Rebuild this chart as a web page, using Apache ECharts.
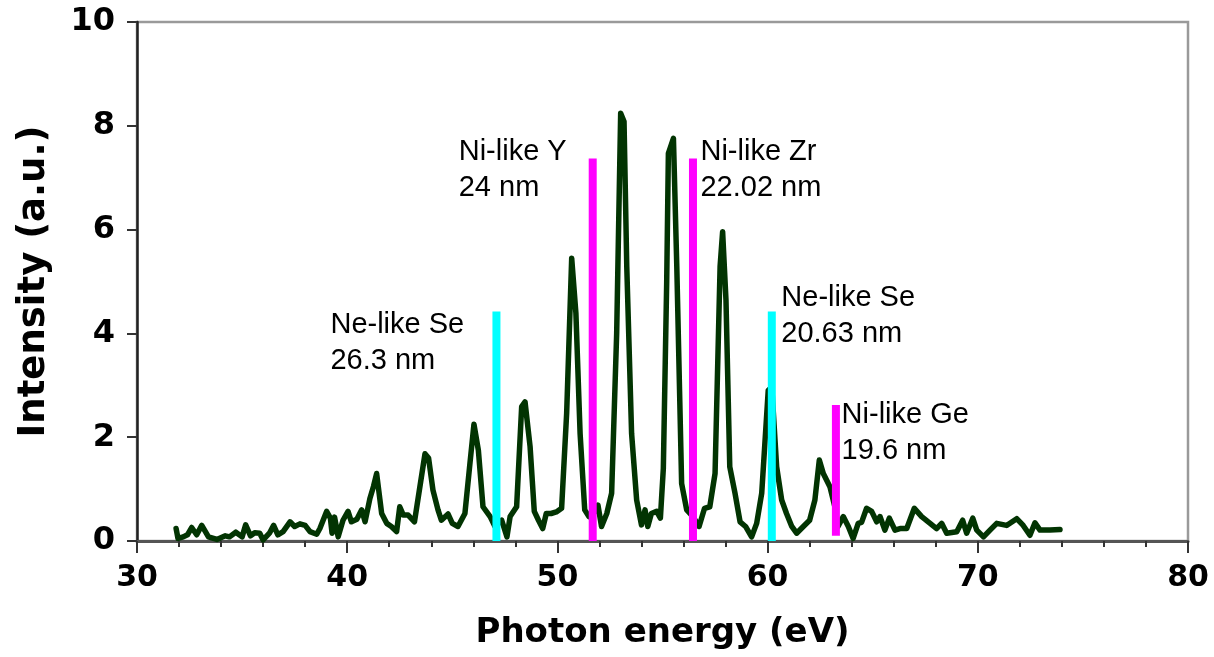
<!DOCTYPE html>
<html>
<head>
<meta charset="utf-8">
<title>Photon energy spectrum</title>
<script src="https://cdn.jsdelivr.net/npm/echarts@6/dist/echarts.min.js"></script>
<style>
  html, body { margin: 0; padding: 0; background: #fff; }
  #chart { width: 1214px; height: 657px; }
</style>
</head>
<body>
<div id="chart"></div>
<script>
// Measured emission spectrum: photon energy (eV) and intensity (a.u.)
const energy = [
  31.86, 31.95, 32.2, 32.4, 32.6, 32.84, 33.08, 33.4, 33.8, 34.2, 34.4, 34.7, 35.0, 35.17, 35.4, 35.6,
  35.84, 36.0, 36.3, 36.5, 36.7, 36.95, 37.28, 37.5, 37.75, 38.0, 38.23, 38.55, 38.7, 39.02, 39.2, 39.28,
  39.4, 39.57, 39.8, 40.04, 40.2, 40.46, 40.69, 40.85, 41.08, 41.25, 41.4, 41.64, 41.88, 42.1, 42.35, 42.5,
  42.67, 42.9, 43.2, 43.46, 43.7, 43.87, 44.08, 44.32, 44.48, 44.8, 45.0, 45.27, 45.6, 45.84, 46.03, 46.24,
  46.46, 46.8, 47.03, 47.35, 47.6, 47.75, 48.06, 48.3, 48.46, 48.7, 48.9, 49.1, 49.3, 49.47, 49.7, 49.95,
  50.2, 50.44, 50.68, 50.88, 51.08, 51.3, 51.5, 51.75, 51.93, 52.1, 52.35, 52.58, 52.82, 53.01, 53.17, 53.3,
  53.53, 53.77, 54.0, 54.17, 54.3, 54.47, 54.72, 54.9, 55.04, 55.2, 55.28, 55.52, 55.68, 55.91, 56.15, 56.45,
  56.74, 57.0, 57.25, 57.5, 57.74, 57.86, 58.02, 58.2, 58.45, 58.69, 58.95, 59.24, 59.48, 59.72, 60.03, 60.2,
  60.43, 60.67, 60.9, 61.15, 61.38, 61.7, 62.0, 62.25, 62.46, 62.65, 62.97, 63.2, 63.35, 63.6, 63.84, 64.07,
  64.31, 64.47, 64.71, 64.95, 65.19, 65.35, 65.58, 65.79, 66.06, 66.3, 66.62, 66.98, 67.33, 67.73, 68.04, 68.28,
  68.52, 69.0, 69.28, 69.47, 69.76, 69.95, 70.27, 70.58, 70.9, 71.37, 71.85, 72.16, 72.48, 72.72, 72.96, 73.43,
  73.91
];
const intensity = [
  0.24, 0.05, 0.08, 0.12, 0.26, 0.12, 0.30, 0.08, 0.03, 0.10, 0.08, 0.17, 0.08, 0.31, 0.10, 0.16,
  0.15, 0.02, 0.15, 0.30, 0.12, 0.18, 0.37, 0.28, 0.33, 0.30, 0.18, 0.13, 0.24, 0.57, 0.44, 0.15,
  0.46, 0.08, 0.40, 0.57, 0.37, 0.42, 0.60, 0.37, 0.82, 1.05, 1.30, 0.53, 0.34, 0.28, 0.18, 0.66,
  0.50, 0.50, 0.37, 1.05, 1.68, 1.60, 0.98, 0.60, 0.40, 0.52, 0.34, 0.28, 0.53, 1.50, 2.25, 1.75,
  0.66, 0.47, 0.28, 0.40, 0.08, 0.47, 0.66, 2.59, 2.68, 1.82, 0.57, 0.40, 0.24, 0.53, 0.53, 0.56,
  0.63, 2.46, 5.45, 4.39, 2.07, 0.60, 0.47, 0.55, 0.69, 0.28, 0.53, 0.92, 4.00, 8.24, 8.08, 5.29,
  2.07, 0.79, 0.31, 0.60, 0.28, 0.53, 0.57, 0.44, 1.40, 5.00, 7.47, 7.76, 5.29, 1.11, 0.60, 0.47,
  0.28, 0.63, 0.66, 1.30, 5.29, 5.96, 4.64, 1.43, 0.92, 0.37, 0.28, 0.08, 0.34, 0.92, 2.90, 2.97,
  1.43, 0.79, 0.53, 0.28, 0.15, 0.28, 0.40, 0.79, 1.56, 1.30, 1.04, 0.66, 0.28, 0.47, 0.28, 0.05,
  0.34, 0.36, 0.63, 0.57, 0.37, 0.47, 0.21, 0.44, 0.21, 0.24, 0.24, 0.63, 0.47, 0.34, 0.24, 0.34,
  0.15, 0.18, 0.40, 0.15, 0.44, 0.21, 0.08, 0.21, 0.34, 0.30, 0.43, 0.30, 0.11, 0.35, 0.21, 0.21,
  0.22
];

// Reference laser lines: position (eV), marker height and base (a.u.), label text
const lineEnergy = [47.1, 51.68, 56.45, 60.2, 63.25];
const lineHeight = [4.42, 7.37, 7.37, 4.42, 2.62];
const lineBase = [0, 0, 0, 0, 0.1];
const lineIon = ['Ne-like Se', 'Ni-like Y', 'Ni-like Zr', 'Ne-like Se', 'Ni-like Ge'];
const lineWavelength = ['26.3 nm', '24 nm', '22.02 nm', '20.63 nm', '19.6 nm'];

// Axis ticks
const xTicks = [30, 40, 50, 60, 70, 80];
const yTicks = [0, 2, 4, 6, 8, 10];

// Presentation: marker colours by ion type and label offsets from each marker top (px)
const ionColor = { 'Ne-like': '#00ffff', 'Ni-like': '#ff00ff' };
const labelOffset = [[-166, -5], [-134, -24], [7.5, -24], [9.5, -32], [5.7, -8]];

const chart = echarts.init(document.getElementById('chart'), null, { renderer: 'canvas' });

const spectrum = energy.map((e, i) => [e, intensity[i]]);
const markers = lineEnergy.map((e, i) => [e, lineHeight[i], lineBase[i], i]);

const tickFont = 'DejaVu Sans';

chart.setOption({
  animation: false,
  backgroundColor: '#ffffff',
  grid: {
    left: 137, right: 26, top: 22, bottom: 116,
    show: true, borderColor: '#9a9a9a', borderWidth: 2.5, backgroundColor: 'transparent'
  },
  xAxis: {
    type: 'value',
    min: xTicks[0], max: xTicks[xTicks.length - 1], interval: xTicks[1] - xTicks[0],
    name: 'Photon energy (eV)',
    nameLocation: 'middle',
    nameGap: 75,
    nameTextStyle: { fontFamily: tickFont, fontWeight: 'bold', fontSize: 34, color: '#000' },
    axisLine: { show: true, onZero: false, lineStyle: { color: '#555', width: 3 } },
    axisTick: { show: true, inside: false, length: 12, lineStyle: { color: '#333', width: 2 } },
    minorTick: { show: true, splitNumber: 5, length: 6, lineStyle: { color: '#333', width: 2 } },
    axisLabel: { fontFamily: tickFont, fontWeight: 'bold', fontSize: 30, color: '#000', margin: 22 },
    splitLine: { show: false }
  },
  yAxis: {
    type: 'value',
    min: yTicks[0], max: yTicks[yTicks.length - 1], interval: yTicks[1] - yTicks[0],
    name: 'Intensity (a.u.)',
    nameLocation: 'middle',
    nameGap: 84,
    nameTextStyle: { fontFamily: tickFont, fontWeight: 'bold', fontSize: 37, color: '#000' },
    axisLine: { show: true, lineStyle: { color: '#222', width: 2.5 } },
    axisTick: { show: true, inside: false, length: 10, lineStyle: { color: '#333', width: 2 } },
    axisLabel: { fontFamily: tickFont, fontWeight: 'bold', fontSize: 32, color: '#000', margin: 22 },
    splitLine: { show: false }
  },
  series: [
    {
      type: 'line',
      data: spectrum,
      showSymbol: false,
      symbol: 'none',
      smooth: false,
      lineStyle: { color: '#023402', width: 5.5, join: 'round', cap: 'round' },
      z: 2
    },
    {
      type: 'custom',
      data: markers,
      z: 3,
      clip: false,
      renderItem: function (params, api) {
        const idx = api.value(3);
        const top = api.coord([api.value(0), api.value(1)]);
        const base = api.coord([api.value(0), api.value(2)]);
        const kind = lineIon[idx].slice(0, 7);
        const w = 8;
        const off = labelOffset[idx];
        return {
          type: 'group',
          children: [
            {
              type: 'rect',
              shape: { x: top[0] - w / 2, y: top[1], width: w, height: base[1] - top[1] },
              style: { fill: ionColor[kind] }
            },
            {
              type: 'text',
              x: top[0] + off[0],
              y: top[1] + off[1],
              style: {
                text: lineIon[idx] + '\n' + lineWavelength[idx],
                fontFamily: 'Liberation Sans',
                fontSize: 29,
                lineHeight: 36,
                fill: '#000',
                align: 'left',
                verticalAlign: 'top'
              }
            }
          ]
        };
      }
    }
  ]
});
</script>
</body>
</html>
